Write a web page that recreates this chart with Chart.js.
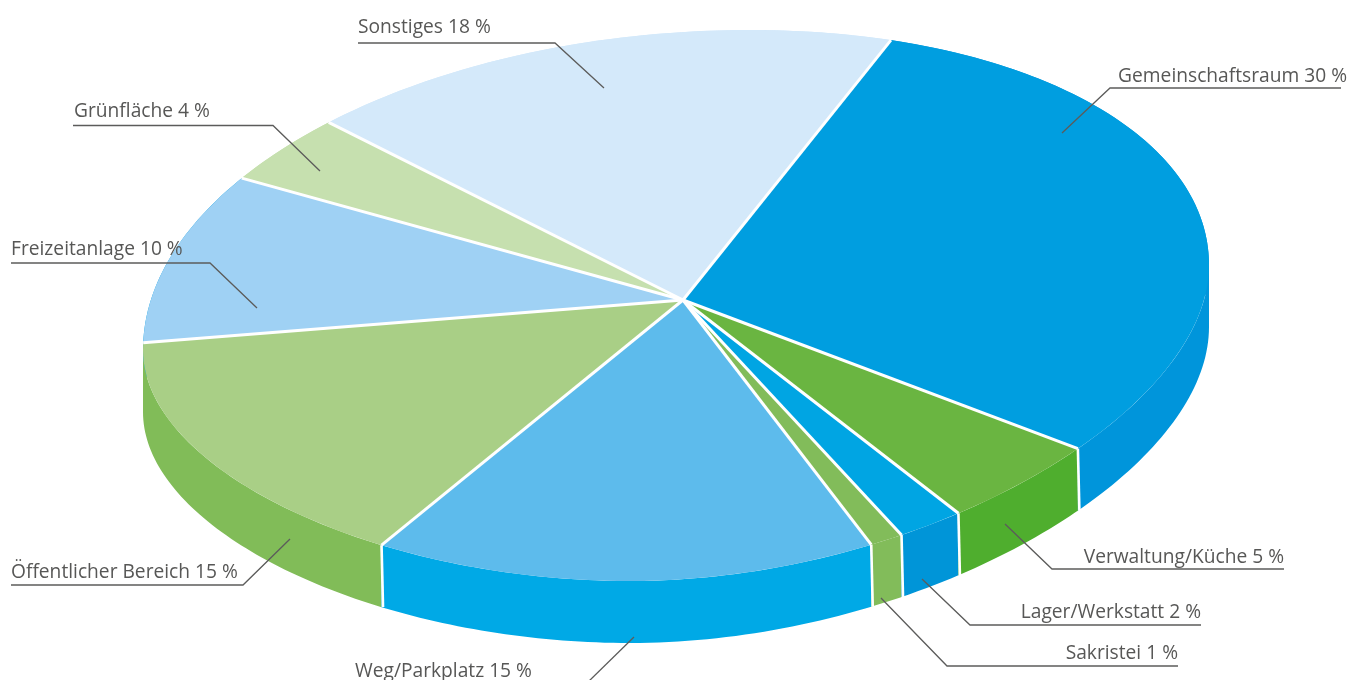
<!DOCTYPE html>
<html lang="de">
<head>
<meta charset="utf-8">
<title>Flächennutzung</title>
<style>
html,body{margin:0;padding:0;background:#fff;overflow:hidden}
#wrap{position:relative;width:1362px;height:680px}
</style>
<script src="https://cdn.jsdelivr.net/npm/chart.js@4"></script>
</head>
<body>
<div id="wrap"><canvas id="c" width="1362" height="680"></canvas></div>
<script>
const categories = ['Gemeinschaftsraum','Verwaltung/Küche','Lager/Werkstatt','Sakristei','Weg/Parkplatz','Öffentlicher Bereich','Freizeitanlage','Grünfläche','Sonstiges'];
const shares = [30,5,2,1,15,15,10,4,18];
const topColors = ['#009ee0','#6ab541','#00a5e3','#82bc5a','#5dbbec','#a9cf86','#9fd1f4','#c6e0af','#d4e9fa'];
const sideColors = ['#0095db','#4fae2e','#0095d8','#82bc5a','#00a9e6','#81bc58','#009fe0','#c6e0af','#d4e9fa'];

// projection of the flat pie to the tilted disc
const APEX = {x:683, y:300};
const U = {x:206.7, y:-258.3};   // image of the 12 o'clock radius
const V = {x:489.4, y:75};       // image of the 3 o'clock radius
const OVER = 1.12;               // pie is a bit larger, rim comes from the disc clip
const DEPTH = 62, SEAM_SKEW = 1.5;
// outline of the perspective disc: start point, then cubic segments
const DISC_START = [1209,265];
const DISC_SEGS = [
 [[1209,415],[920,581],[630,581]],
 [[375,581],[143,470],[143,350]],
 [[143,178],[420,30],[750,30]],
 [[1015,30],[1209,130],[1209,265]]
];

// callouts: text anchor, baseline, line path
const callouts = [
 {align:'right', tx:1347, ty:82,  line:[[1341,88],[1110,88],[1062,133]]},
 {align:'right', tx:1284, ty:563, line:[[1284,569],[1052,569],[1005,524]]},
 {align:'right', tx:1201, ty:618, line:[[1201,625],[970,625],[922,579]]},
 {align:'right', tx:1178, ty:659, line:[[1178,666],[947,666],[881,598]]},
 {align:'left',  tx:355,  ty:677, line:[[634,637],[586,684]]},
 {align:'left',  tx:11,   ty:578, line:[[11,585],[243,585],[290,539]]},
 {align:'left',  tx:11,   ty:255, line:[[11,263],[210,263],[257,308]]},
 {align:'left',  tx:74,   ty:117, line:[[73,125.5],[273,125.5],[320,171]]},
 {align:'left',  tx:358,  ty:33,  line:[[358,43],[555,43],[604,88]]}
];

function discPath(ctx){
  ctx.beginPath();
  ctx.moveTo(DISC_START[0],DISC_START[1]);
  DISC_SEGS.forEach(s=>ctx.bezierCurveTo(s[0][0],s[0][1],s[1][0],s[1][1],s[2][0],s[2][1]));
  ctx.closePath();
}
const rimPoly = (()=>{
  const pts=[]; let p0=DISC_START;
  DISC_SEGS.forEach(s=>{
    for(let k=0;k<90;k++){
      const t=k/90,m=1-t;
      pts.push([m*m*m*p0[0]+3*m*m*t*s[0][0]+3*m*t*t*s[1][0]+t*t*t*s[2][0],
                m*m*m*p0[1]+3*m*m*t*s[0][1]+3*m*t*t*s[1][1]+t*t*t*s[2][1]]);
    }
    p0=s[2];
  });
  return pts;
})();
function pieTransform(ctx, el){
  const k = OVER/el.outerRadius;
  ctx.transform(k*V.x, k*V.y, -k*U.x, -k*U.y, APEX.x, APEX.y);
  ctx.translate(-el.x, -el.y);
}
// where the spoke at this library angle meets the rim
function rimHit(angle){
  const c=Math.cos(angle), s=Math.sin(angle);
  const dx=V.x*c-U.x*s, dy=V.y*c-U.y*s;
  for(let i=0;i<rimPoly.length;i++){
    const a=rimPoly[i], b=rimPoly[(i+1)%rimPoly.length];
    const ex=b[0]-a[0], ey=b[1]-a[1];
    const den=dx*ey-dy*ex;
    if(Math.abs(den)<1e-9) continue;
    const ax=a[0]-APEX.x, ay=a[1]-APEX.y;
    const t=(ax*ey-ay*ex)/den, w=(ax*dy-ay*dx)/den;
    if(t>0 && w>=0 && w<=1) return {x:APEX.x+t*dx, y:APEX.y+t*dy, i};
  }
  return {x:APEX.x,y:APEX.y,i:0};
}

const tiltedDisc = {
  id:'tiltedDisc',
  beforeDatasetsDraw(chart){
    const ctx = chart.ctx, arcs = chart.getDatasetMeta(0).data;
    const n = rimPoly.length;
    // side wall of every slice: its rim arc swept down by the depth
    for(let i=arcs.length-1;i>=0;i--){
      const el = arcs[i];
      const a = rimHit(el.startAngle), b = rimHit(el.endAngle);
      const pts = [[a.x,a.y]];
      for(let k=(a.i+1)%n; k!==(b.i+1)%n; k=(k+1)%n) pts.push(rimPoly[k]);
      pts.push([b.x,b.y]);
      ctx.beginPath();
      for(let j=0;j<pts.length-1;j++){
        const p=pts[j], q=pts[j+1];
        const [f,g] = q[0]>=p[0] ? [p,q] : [q,p];   // same winding for every strip
        ctx.moveTo(f[0],f[1]);
        ctx.lineTo(g[0],g[1]);
        ctx.lineTo(g[0],g[1]+DEPTH);
        ctx.lineTo(f[0],f[1]+DEPTH);
        ctx.closePath();
      }
      ctx.fillStyle = sideColors[i];
      ctx.fill();
    }
    // seams on the wall
    ctx.save();
    ctx.strokeStyle='#fff'; ctx.lineWidth=2.6;
    arcs.forEach((el,i)=>{
      if(i===0 || i>5) return;
      const p = rimHit(el.startAngle);
      ctx.beginPath(); ctx.moveTo(p.x,p.y); ctx.lineTo(p.x+SEAM_SKEW, p.y+DEPTH); ctx.stroke();
    });
    ctx.restore();
    // top surface: library draws the slices through this clip and projection
    ctx.save();
    discPath(ctx); ctx.clip();
    pieTransform(ctx, arcs[0]);
  },
  afterDatasetsDraw(chart){
    const ctx = chart.ctx, arcs = chart.getDatasetMeta(0).data;
    ctx.restore();
    // white spokes
    ctx.save();
    ctx.strokeStyle='#fff'; ctx.lineWidth=3; ctx.lineCap='butt';
    arcs.forEach(el=>{
      const p = rimHit(el.startAngle);
      ctx.beginPath(); ctx.moveTo(APEX.x,APEX.y); ctx.lineTo(p.x,p.y); ctx.stroke();
    });
    ctx.restore();
    // callouts
    ctx.save();
    ctx.font = '19.2px "Open Sans"';
    ctx.textBaseline='alphabetic';
    callouts.forEach((c,i)=>{
      ctx.strokeStyle='#5c5c5b'; ctx.lineWidth=1.3;
      ctx.beginPath();
      c.line.forEach((p,j)=> j?ctx.lineTo(p[0],p[1]):ctx.moveTo(p[0],p[1]));
      ctx.stroke();
      ctx.fillStyle='#575756';
      ctx.textAlign=c.align;
      ctx.fillText(categories[i]+' '+shares[i]+' %', c.tx, c.ty);
    });
    ctx.restore();
  }
};

new Chart(document.getElementById('c'),{
  type:'pie',
  data:{labels:categories,datasets:[{data:shares,backgroundColor:topColors,borderWidth:0}]},
  plugins:[tiltedDisc],
  options:{
    responsive:false,animation:false,
    events:[],
    layout:{padding:0},
    plugins:{legend:{display:false},tooltip:{enabled:false},title:{display:false}}
  }
});
</script>
</body>
</html>
